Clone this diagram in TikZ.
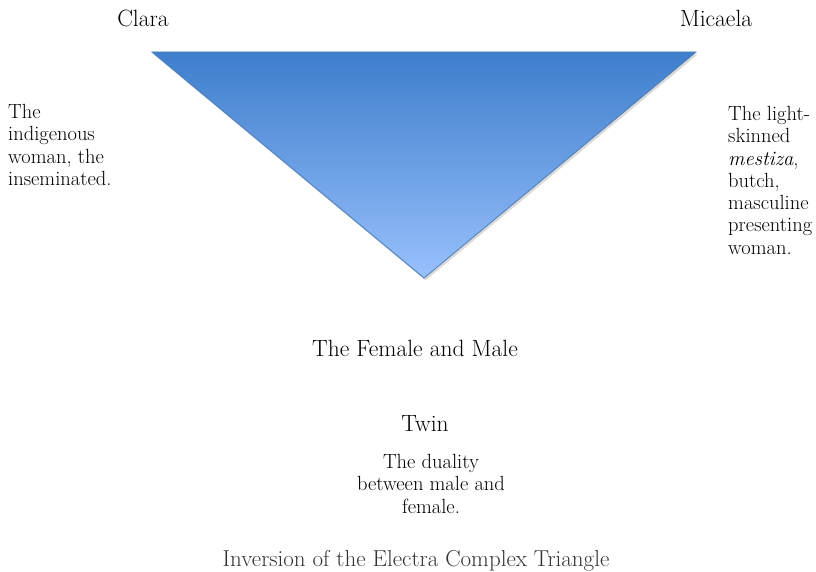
\documentclass[tikz,border=0pt]{standalone}
\usetikzlibrary{shadows}
\definecolor{tritop}{HTML}{3E7ECC}
\definecolor{tribot}{HTML}{98C0FC}
\definecolor{triedge}{HTML}{4A7EBB}
\definecolor{captgray}{HTML}{333333}
\tikzset{
  persona/.style={font=\fontsize{23.5}{28}\selectfont, inner sep=0pt},
  note/.style={font=\fontsize{20.5}{22.3}\selectfont, inner sep=0pt},
}
\begin{document}
\begin{tikzpicture}[x=1pt, y=-1pt]
            \useasboundingbox (0,0) rectangle (816,572);

            % corners of the inverted triangle
            \coordinate (tl) at (152,52);
            \coordinate (tr) at (696,52);
            \coordinate (bt) at (424,278);
            \shade[top color=tritop, bottom color=tribot, draw=triedge, line width=0.8pt,
                   drop shadow={shadow xshift=1.5pt, shadow yshift=-2.5pt, opacity=0.3}]
                (tl) -- (tr) -- (bt) -- cycle;

            \node[persona] (clara) at (143,18) {Clara};
            \node[persona] (micaela) at (716,18) {Micaela};
            \node[note, anchor=north west, align=left] (claranote) at (8,104)
                {The\\indigenous\\woman, the\\inseminated.};
            \node[note, anchor=north west, align=left] (micaelanote) at (728,106)
                {The light-\\skinned\\\textit{mestiza},\\butch,\\masculine\\presenting\\woman.};

            \node[persona] (fm) at (415,348) {The Female and Male};
            \node[persona] (twin) at (425,424) {Twin};
            \node[note, align=center, anchor=north] (twinnote) at (431,454)
                {The duality\\between male and\\female.};

            \node[font=\fontsize{23}{26}\selectfont, text=captgray, inner sep=0pt] (caption)
                at (416,561) {Inversion of the Electra Complex Triangle};
        \end{tikzpicture}
\end{document}
